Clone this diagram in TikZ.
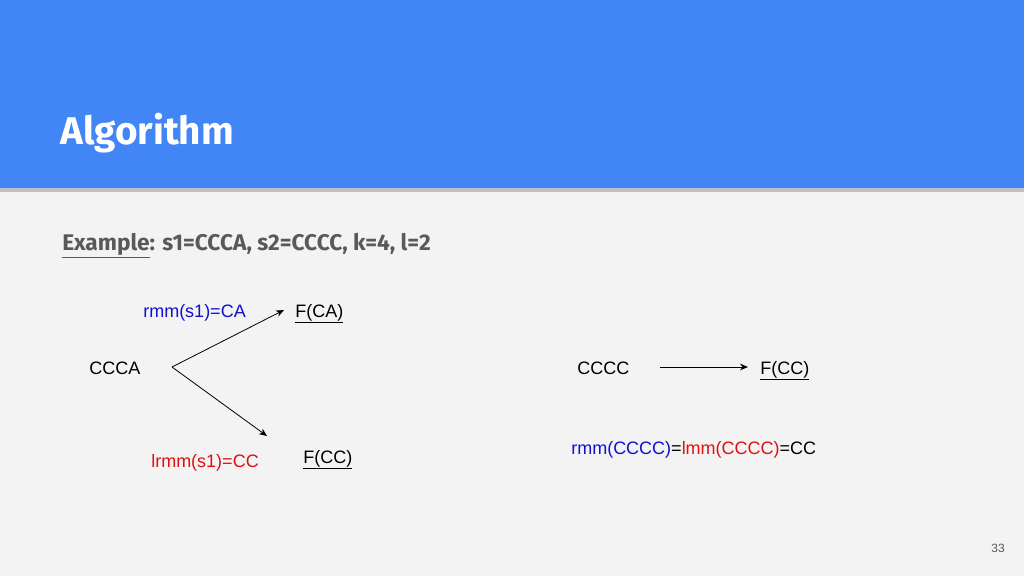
\documentclass[tikz,border=0pt]{standalone}
\usepackage{fontspec}
\setmainfont{Liberation Sans}
\newfontfamily\titlefont{Fira Sans}
\usetikzlibrary{arrows.meta}
\definecolor{hdr}{HTML}{4285F4}
\definecolor{bg}{HTML}{F3F3F3}
\definecolor{sub}{HTML}{595959}
\definecolor{myblue}{HTML}{1010D0}
\definecolor{myred}{HTML}{E01010}
\begin{document}
\begin{tikzpicture}[x=0.75pt,y=-0.75pt,
  txt/.style={font=\fontsize{13.5}{16}\selectfont,inner sep=0pt,anchor=base west},
  arr/.style={-{Stealth[length=6pt,width=5pt]},line width=0.6pt}]
\fill[bg] (0,0) rectangle (1024,576);
\useasboundingbox (0,0) rectangle (1024,576);
\fill[black!25] (0,188) rectangle (1024,192);
\fill[hdr] (0,0) rectangle (1024,188);
\node[anchor=base west,inner sep=0pt,text=white,font=\titlefont\bfseries\fontsize{29}{32}\selectfont] (title) at (60,144) {Algorithm};
\node[anchor=base west,inner sep=0pt,text=sub,font=\titlefont\bfseries\fontsize{17}{20}\selectfont] (ex) at (62,250) {\underline{Example}: s1=CCCA, s2=CCCC, k=4, l=2};
\node[txt,text=myblue] (rmm) at (143,317) {rmm(s1)=CA};
\node[txt] (fca) at (295,317) {\underline{F(CA)}};
\node[txt] (ccca) at (89,374) {CCCA};
\node[txt,text=myred] (lrmm) at (151,467) {lrmm(s1)=CC};
\node[txt] (fcc1) at (303,463) {\underline{F(CC)}};
\node[txt] (cccc) at (577,374) {CCCC};
\node[txt] (fcc2) at (760,374) {\underline{F(CC)}};
\node[txt] (eq) at (571,454) {\textcolor{myblue}{rmm(CCCC)}=\textcolor{myred}{lmm(CCCC)}=CC};
\coordinate (v) at (172,367);
\coordinate (t1) at (284,310);
\coordinate (t2) at (267,436);
\draw[arr] (v) -- (t1);
\draw[arr] (v) -- (t2);
\coordinate (a1) at (660,367);
\coordinate (a2) at (748,367);
\draw[arr] (a1) -- (a2);
\node[anchor=base east,inner sep=0pt,text=sub,font=\fontsize{9}{10}\selectfont] (pg) at (1005,552) {33};
\end{tikzpicture}
\end{document}
